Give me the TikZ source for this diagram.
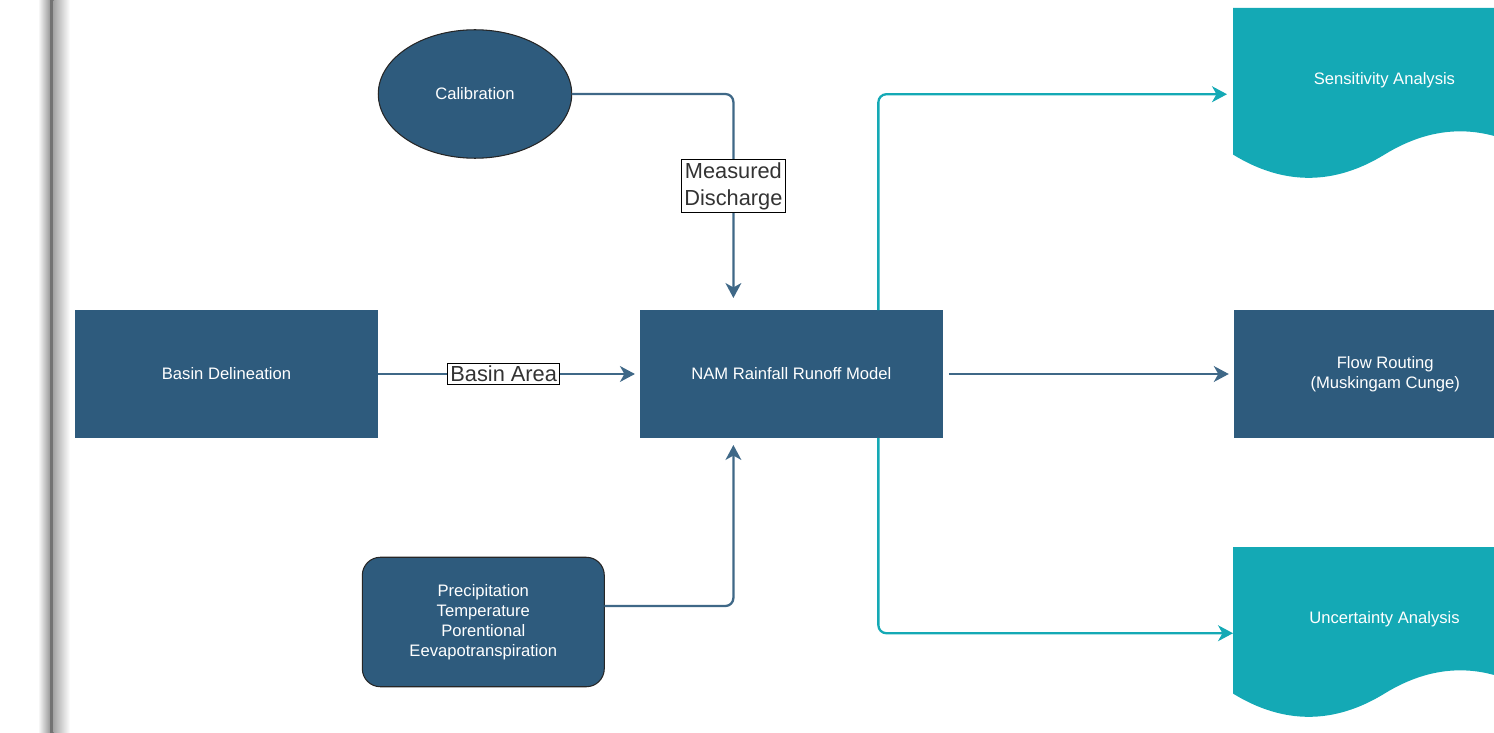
\documentclass[tikz,border=0pt]{standalone}
\usepackage{fontspec}
\setmainfont{Liberation Sans}
\definecolor{colorBlock}{RGB}{46,91,125}
\definecolor{colorAnalysis}{RGB}{20,169,181}
\colorlet{colorFlow}{colorBlock!92!white}
\colorlet{colorLabel}{black!80}
\usetikzlibrary{arrows.meta, positioning, shapes.geometric, backgrounds}
\tikzset{
  block/.style={rectangle, fill=colorBlock, text=white, minimum width=6.06cm, minimum height=2.56cm, inner sep=0pt, outer sep=0pt, align=center, font=\fontsize{9.45}{11.3}\selectfont},
  docbox/.style={rectangle, minimum width=6.06cm, minimum height=3.45cm, inner sep=0pt, outer sep=0pt, anchor=north west},
  doctext/.style={text=white, font=\fontsize{9.45}{11.3}\selectfont, yshift=0.29cm},
  edgelabel/.style={draw=black, sharp corners, line width=0.5pt, fill=white, text=colorLabel, inner sep=1.5pt, align=center, font=\fontsize{12.4}{15.3}\selectfont}
}

\begin{document}
\begin{tikzpicture}[x=0.02cm, y=-0.02cm, >={Stealth[length=8.5pt, width=9pt, inset=2.5pt]}, line width=1.3pt]
\useasboundingbox (0,0) rectangle (1494,733);
\node[block] (basin) at (226.5,374) {Basin Delineation};
\node[block, right=5.24cm of basin] (nam) {NAM Rainfall Runoff Model};
\node[block, right=5.82cm of nam] (route) {Flow Routing\\(Muskingam Cunge)};
\node[block, ellipse, draw=black!85, line width=0.6pt, minimum width=3.87cm, minimum height=2.57cm] (calib) at (475,94) {Calibration};
\node[block, draw=black!85, line width=0.6pt, rounded corners=0.36cm, minimum width=4.84cm, minimum height=2.59cm] (meteo) at (483.3,622) {Precipitation\\Temperature\\Porentional\\Eevapotranspiration};
\node[docbox, label={[doctext]center:Sensitivity Analysis}] (sens) at (1233,8) {};
\node[docbox, label={[doctext]center:Uncertainty Analysis}] (unc) at (1233,547) {};
\draw[->, colorFlow, rounded corners=0.16cm, shorten >=0.24cm] (calib.east) -| node[edgelabel, pos=0.713]{Measured\\Discharge} ([xshift=-1.16cm]nam.north);
\draw[->, colorFlow, shorten >=0.1cm] (basin) -- node[edgelabel, pos=0.48]{Basin Area} (nam);
\draw[->, colorFlow, rounded corners=0.16cm, shorten >=0.14cm] ([yshift=0.32cm]meteo.east) -| ([xshift=-1.16cm]nam.south);
\draw[->, colorFlow, shorten <=0.12cm, shorten >=0.1cm] (nam) -- (route);
\draw[->, colorAnalysis, rounded corners=0.16cm, shorten >=0.12cm] ([xshift=1.74cm]nam.north) |- (sens.west);
\draw[->, colorAnalysis, rounded corners=0.16cm] ([xshift=1.74cm]nam.south) |- (unc.west);
\begin{scope}[on background layer]
\foreach \doc in {sens, unc}
  \fill[colorAnalysis] (\doc.north west) -- (\doc.north east) -- ([yshift=0.518cm]\doc.south east) .. controls +(-50.5,-31) and +(50.5,-31) .. ([yshift=0.518cm]\doc.south) .. controls +(-50.5,31) and +(50.5,31) .. ([yshift=0.518cm]\doc.south west) -- cycle;
\fill[left color=white, right color=black!40] (38,0) rectangle (50,733);
\fill[black!55] (50,0) rectangle (53.5,733);
\fill[left color=black!35, right color=white] (53.5,0) rectangle (70,733);
\end{scope}
\end{tikzpicture}
\end{document}
